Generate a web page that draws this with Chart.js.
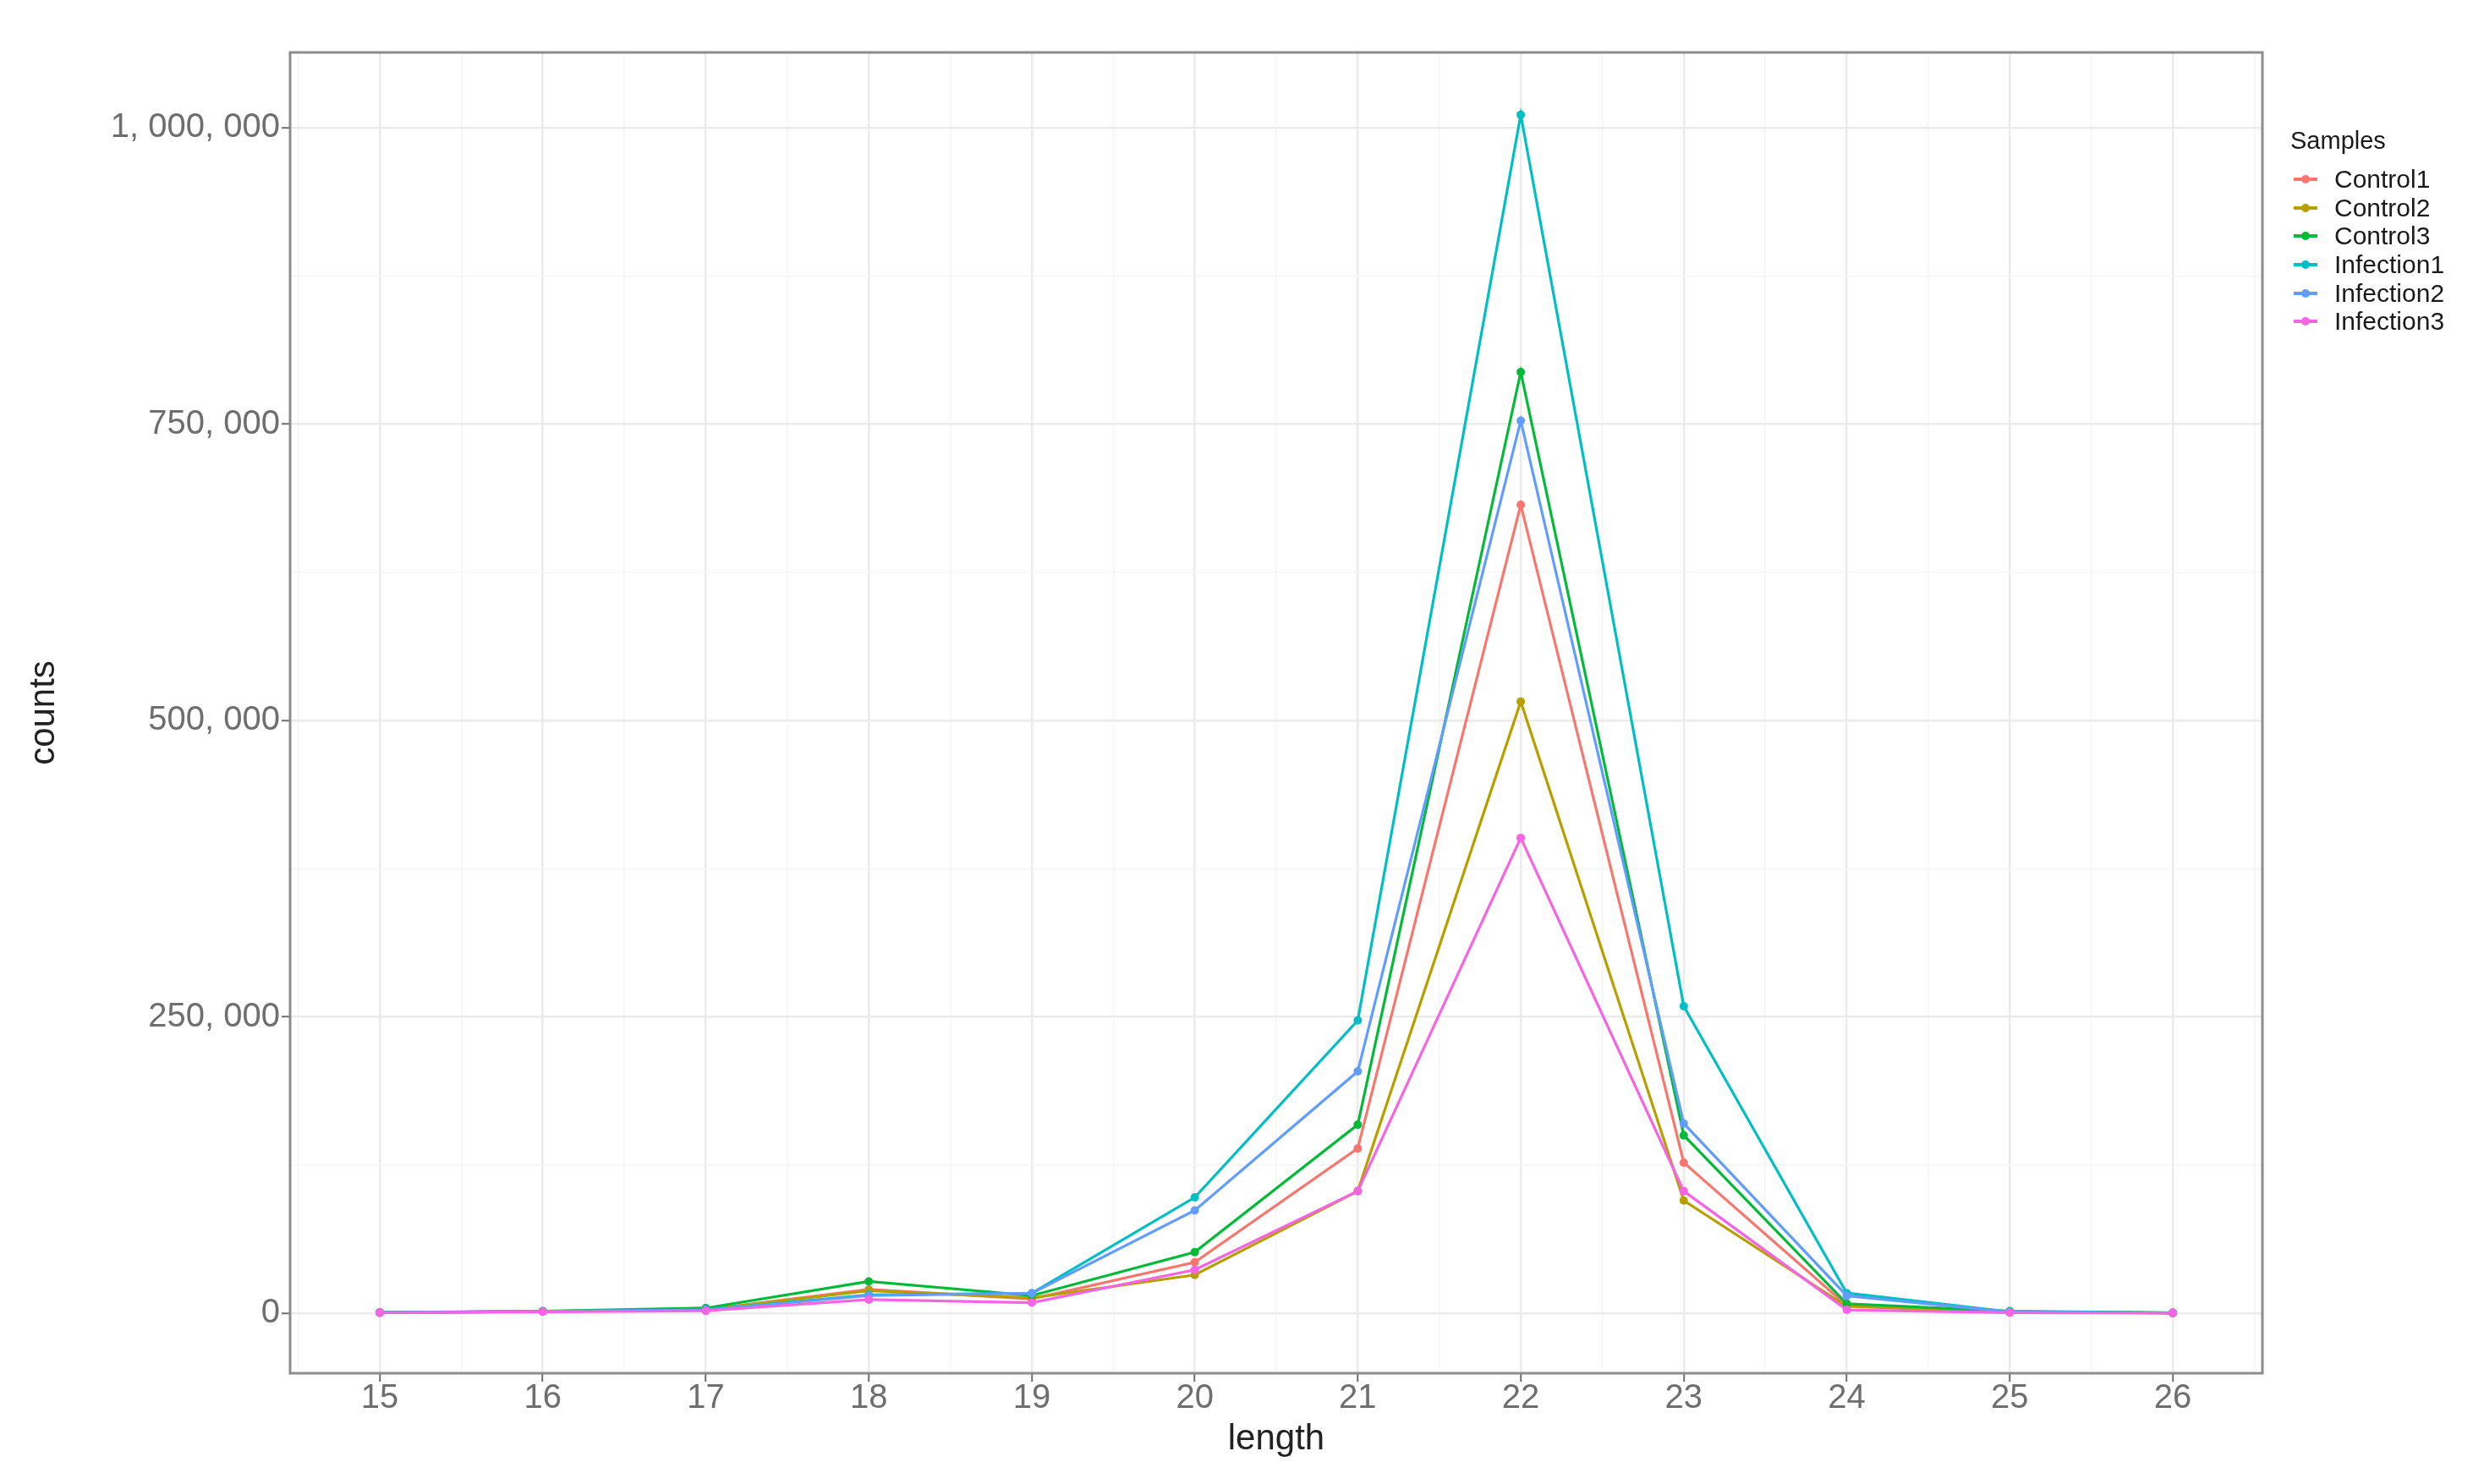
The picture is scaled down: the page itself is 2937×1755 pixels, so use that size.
<!DOCTYPE html>
<html>
<head>
<meta charset="utf-8">
<script src="https://cdn.jsdelivr.net/npm/chart.js@4.4.0/dist/chart.umd.min.js"></script>
<style>
    html, body { margin: 0; padding: 0; background: #ffffff; }
    #wrap { position: relative; width: 2937px; height: 1755px; }
    #legend { position: absolute; left: 2708px; top: 150px; font-family: "Liberation Sans", Arial, sans-serif; color: #1a1a1a; }
    #legend .title { font-size: 29px; height: 45px; }
    #legend .item { display: flex; align-items: center; height: 33.7px; font-size: 30px; }
    #legend .key { position: relative; width: 28px; height: 4px; margin-right: 20px; margin-left: 4px; }
    #legend .key .dot { position: absolute; left: 9px; top: -3px; width: 10px; height: 10px; border-radius: 50%; }
</style>
</head>
<body>
<div id="wrap">
    <canvas id="myChart" width="2937" height="1755"></canvas>
    <div id="legend"></div>
</div>
<script>
// data
const lengths = [15, 16, 17, 18, 19, 20, 21, 22, 23, 24, 25, 26];
const sampleNames = ["Control1", "Control2", "Control3", "Infection1", "Infection2", "Infection3"];
const sampleColors = ["#F8766D", "#B79F00", "#00BA38", "#00BFC4", "#619CFF", "#F564E3"];

const control1 = [500, 1500, 3000, 20000, 12000, 43000, 139000, 682000, 127000, 6400, 1000, 200];
const control2 = [500, 1500, 3000, 19000, 13000, 32300, 103000, 516000, 95000, 5700, 800, 200];
const control3 = [600, 1800, 4300, 26800, 14800, 51500, 159000, 794000, 150000, 8000, 1700, 300];
const infection1 = [500, 1500, 2800, 15500, 16800, 97700, 247000, 1011000, 259000, 17000, 1200, 300];
const infection2 = [500, 1500, 2800, 14800, 16800, 86700, 204000, 753000, 160000, 14700, 1000, 200];
const infection3 = [400, 1200, 2000, 11500, 8900, 36600, 103000, 401000, 103000, 2800, 500, 100];

const seriesValues = [control1, control2, control3, infection1, infection2, infection3];

const yTicks = [0, 125000, 250000, 375000, 500000, 625000, 750000, 875000, 1000000];
const xTicks = [14.5, 15, 15.5, 16, 16.5, 17, 17.5, 18, 18.5, 19, 19.5, 20, 20.5, 21, 21.5, 22, 22.5, 23, 23.5, 24, 24.5, 25, 25.5, 26, 26.5];

function isMajorY(v) {
    return v % 250000 === 0;
}

function isMajorX(v) {
    return Number.isInteger(v);
}

function fmt(v) {
    return Math.round(v).toLocaleString("en-US").split(",").join(", ");
}

let datasets = [];
for (let i = 0; i < sampleNames.length; i++) {
    let pts = [];
    for (let j = 0; j < lengths.length; j++) {
        pts.push({ x: lengths[j], y: seriesValues[i][j] });
    }
    datasets.push({
        label: sampleNames[i],
        data: pts,
        borderColor: sampleColors[i],
        backgroundColor: sampleColors[i],
        borderWidth: 3.2,
        pointRadius: 5,
        pointBorderWidth: 0,
        pointHoverRadius: 5,
        tension: 0,
        order: sampleNames.length - i
    });
}

// ggplot style panel border
const panelBorder = {
    id: "panelBorder",
    afterDraw(chart) {
        const a = chart.chartArea;
        const c = chart.ctx;
        c.save();
        c.strokeStyle = "#8c8c8c";
        c.lineWidth = 3;
        c.strokeRect(a.left, a.top, a.right - a.left, a.bottom - a.top);
        c.restore();
    }
};

Chart.defaults.font.family = '"Liberation Sans", Arial, sans-serif';

const ctx = document.getElementById("myChart");

const myChart = new Chart(ctx, {
    type: "line",
    data: { datasets: datasets },
    options: {
        responsive: false,
        animation: false,
        layout: { padding: { left: 0, right: 262, top: 62, bottom: 0 } },
        plugins: {
            legend: { display: false },
            tooltip: { enabled: false }
        },
        scales: {
            x: {
                type: "linear",
                min: 14.45,
                max: 26.55,
                afterBuildTicks: (scale) => {
                    scale.ticks = xTicks.map(v => ({ value: v }));
                },
                afterFit: (scale) => { scale.height = 131; },
                ticks: {
                    autoSkip: false,
                    maxRotation: 0,
                    padding: -4,
                    color: "#6e6e6e",
                    font: { size: 40 },
                    callback: (v) => isMajorX(v) ? String(v) : ""
                },
                grid: {
                    color: (c) => isMajorX(c.tick.value) ? "#ebebeb" : "#f5f5f5",
                    lineWidth: (c) => isMajorX(c.tick.value) ? 2.5 : 1.5,
                    tickColor: (c) => isMajorX(c.tick.value) ? "#6e6e6e" : "rgba(0,0,0,0)",
                    tickWidth: 2,
                    tickLength: 10
                },
                border: { display: false },
                title: {
                    display: true,
                    text: "length",
                    color: "#222222",
                    font: { size: 42 },
                    padding: { top: 0, bottom: 27 }
                }
            },
            y: {
                type: "linear",
                min: -50650,
                max: 1063650,
                afterBuildTicks: (scale) => {
                    scale.ticks = yTicks.map(v => ({ value: v }));
                },
                afterFit: (scale) => { scale.width = 343; },
                ticks: {
                    padding: 2,
                    color: "#6e6e6e",
                    font: { size: 40 },
                    callback: (v) => isMajorY(v) ? fmt(v) : ""
                },
                grid: {
                    color: (c) => isMajorY(c.tick.value) ? "#ebebeb" : "#f5f5f5",
                    lineWidth: (c) => isMajorY(c.tick.value) ? 2.5 : 1.5,
                    tickColor: (c) => isMajorY(c.tick.value) ? "#6e6e6e" : "rgba(0,0,0,0)",
                    tickWidth: 2,
                    tickLength: 10
                },
                border: { display: false },
                title: {
                    display: true,
                    text: "counts",
                    color: "#222222",
                    font: { size: 42 },
                    padding: { top: 27, bottom: 0 }
                }
            }
        }
    },
    plugins: [panelBorder]
});

// legend as html, built from the same arrays
const legend = document.getElementById("legend");
let html = '<div class="title">Samples</div>';
for (let i = 0; i < sampleNames.length; i++) {
    html += '<div class="item"><span class="key" style="background:' + sampleColors[i] + '">' +
        '<span class="dot" style="background:' + sampleColors[i] + '"></span></span>' + sampleNames[i] + '</div>';
}
legend.innerHTML = html;
</script>
</body>
</html>
